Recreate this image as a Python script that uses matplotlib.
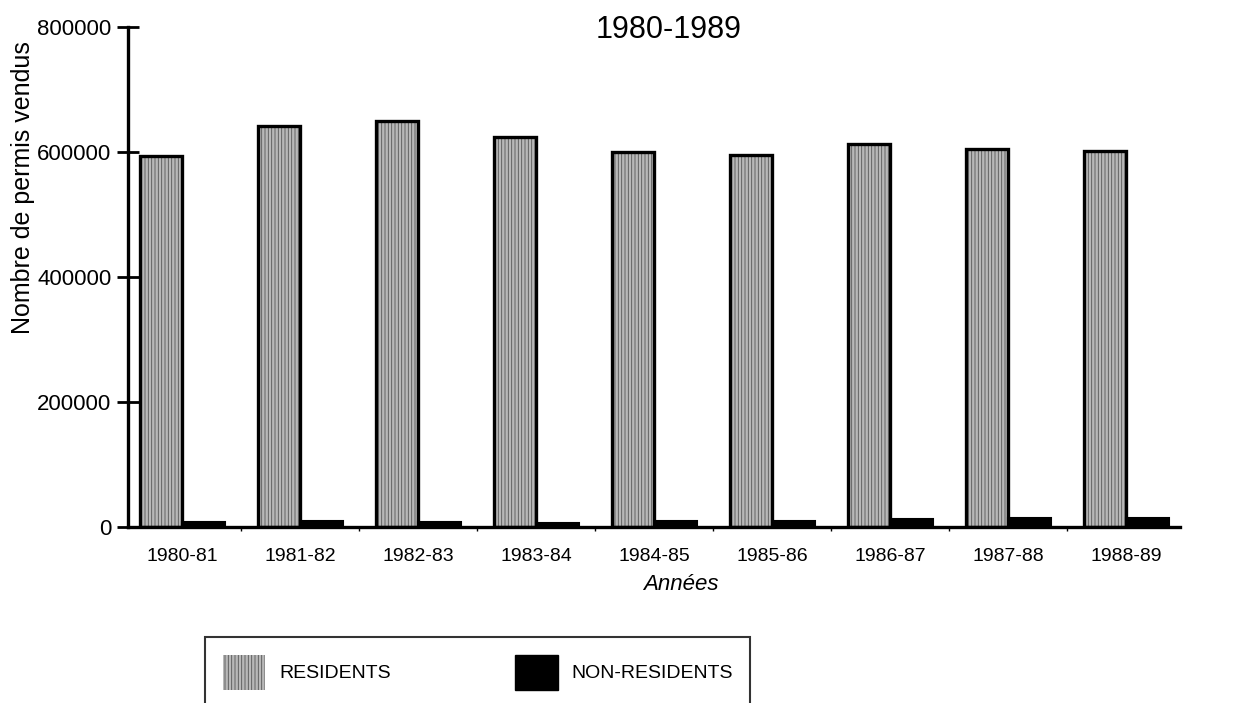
import matplotlib.pyplot as plt
import numpy as np


YEARS = ["1980-81", "1981-82", "1982-83", "1983-84", "1984-85",
         "1985-86", "1986-87", "1987-88", "1988-89"]
RESIDENTS = [594000, 641000, 649000, 624000, 600000, 595000, 613000, 605000, 601000]
NON_RESIDENTS = [8000, 10000, 8000, 7000, 9000, 10000, 12000, 15000, 14000]

TITLE = "1980-1989"
Y_LABEL = "Nombre de permis vendus"
X_LABEL = "Années"
LEGEND_LABELS = ["RESIDENTS", "NON-RESIDENTS"]

FONT = ["Liberation Sans", "DejaVu Sans"]
STIPPLE = "#b8b8b8"
STIPPLE_LINES = "#555555"
STIPPLE_HATCH = "|||||"


def main():
    plt.rcParams["font.family"] = FONT
    plt.rcParams["hatch.linewidth"] = 0.6

    fig = plt.figure(figsize=(12.49, 7.03), dpi=100)
    ax = fig.add_axes([0.1025, 0.2504, 0.8425, 0.7112])

    x = np.arange(len(YEARS))
    width = 0.36

    # residents: grey stipple, then a black outline on top
    ax.bar(x - width / 2, RESIDENTS, width, color=STIPPLE,
           edgecolor=STIPPLE_LINES, hatch=STIPPLE_HATCH, linewidth=0, zorder=2)
    ax.bar(x - width / 2, RESIDENTS, width, fill=False,
           edgecolor="black", linewidth=2.4, zorder=3)
    ax.bar(x + width / 2, NON_RESIDENTS, width, color="black",
           edgecolor="black", linewidth=1.5, zorder=3)

    ax.set_xlim(-0.46, 8.46)
    ax.set_ylim(0, 800000)
    ax.set_yticks([0, 200000, 400000, 600000, 800000])
    ax.set_yticklabels(["0", "200000", "400000", "600000", "800000"])
    ax.set_xticks(x)
    ax.set_xticklabels(YEARS)
    ax.set_xticks(x[:-1] + 0.5, minor=True)

    for side in ["top", "right"]:
        ax.spines[side].set_visible(False)
    for side in ["left", "bottom"]:
        ax.spines[side].set_linewidth(2.4)

    ax.tick_params(axis="y", direction="inout", length=16, width=2,
                   labelsize=16, pad=4)
    ax.tick_params(axis="x", which="major", length=0, labelsize=14, pad=15)
    ax.tick_params(axis="x", which="minor", direction="out", length=3, width=1)

    ax.set_ylabel(Y_LABEL, fontsize=18)
    ax.yaxis.set_label_coords(-0.088, 0.678)
    ax.set_xlabel(X_LABEL, fontsize=16, style="italic")
    ax.xaxis.set_label_coords(0.525, -0.095)

    fig.text(0.535, 0.958, TITLE, fontsize=22, ha="center", va="center")

    handles = [
        plt.Rectangle((0, 0), 1, 1, facecolor=STIPPLE, edgecolor=STIPPLE_LINES,
                      hatch=STIPPLE_HATCH, linewidth=0),
        plt.Rectangle((0, 0), 1, 1, facecolor="black", edgecolor="black"),
    ]
    leg = fig.legend(handles, LEGEND_LABELS, loc="upper left",
                     bbox_to_anchor=(205 / 1249, 1 - 637 / 703), ncol=2,
                     fontsize=14, frameon=True, fancybox=False,
                     handlelength=2.2, handleheight=2.4, handletextpad=0.7,
                     columnspacing=6.4, borderpad=0.9, borderaxespad=0)
    leg.get_frame().set_edgecolor("black")
    leg.get_frame().set_linewidth(1.5)

    fig.savefig("out.png", dpi=100)


if __name__ == "__main__":
    main()
